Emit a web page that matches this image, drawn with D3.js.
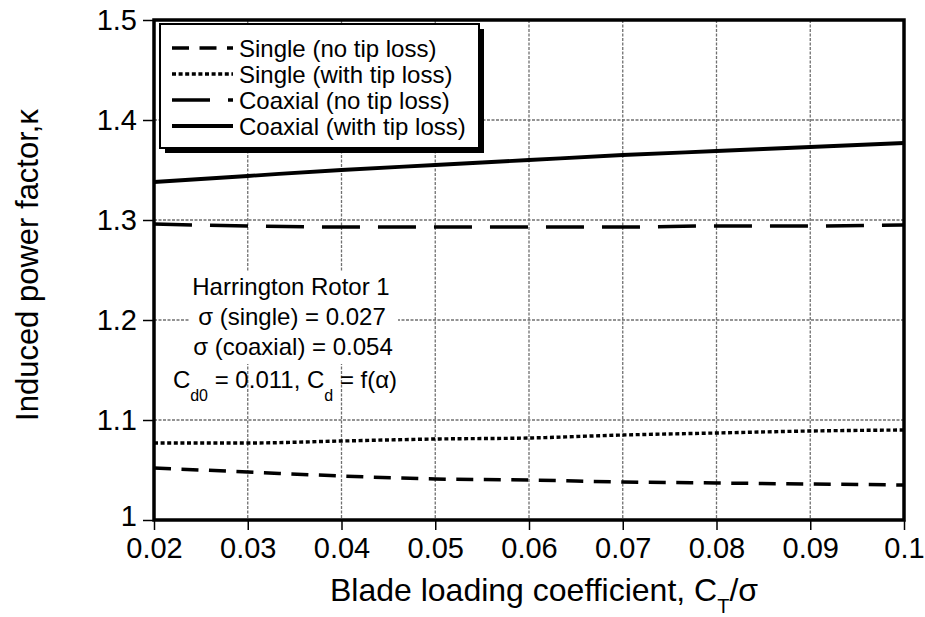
<!DOCTYPE html>
<html>
<head>
<meta charset="utf-8">
<script src="https://cdn.jsdelivr.net/npm/d3@7"></script>
<style>
  body { margin: 0; background: #fff; }
  svg { display: block; font-family: "Liberation Sans", Arial, Helvetica, sans-serif; }
</style>
</head>
<body>
<svg id="chart" width="925" height="617"></svg>
<script>
// ---- data ----
const ctSigma = [0.02, 0.03, 0.04, 0.05, 0.06, 0.07, 0.08, 0.09, 0.10];
const singleNoTip   = [1.052, 1.048, 1.044, 1.041, 1.040, 1.038, 1.037, 1.036, 1.035];
const singleTip     = [1.077, 1.077, 1.079, 1.081, 1.082, 1.085, 1.087, 1.089, 1.090];
const coaxialNoTip  = [1.296, 1.294, 1.293, 1.293, 1.293, 1.293, 1.294, 1.294, 1.295];
const coaxialTip    = [1.338, 1.344, 1.350, 1.355, 1.360, 1.365, 1.369, 1.373, 1.377];
const seriesNames = ["Single (no tip loss)", "Single (with tip loss)", "Coaxial (no tip loss)", "Coaxial (with tip loss)"];
const xTicks = [0.02, 0.03, 0.04, 0.05, 0.06, 0.07, 0.08, 0.09, 0.10];
const xTickLabels = ["0.02", "0.03", "0.04", "0.05", "0.06", "0.07", "0.08", "0.09", "0.1"];
const yTicks = [1.0, 1.1, 1.2, 1.3, 1.4, 1.5];
const yTickLabels = ["1", "1.1", "1.2", "1.3", "1.4", "1.5"];

// ---- layout ----
const svg = d3.select("#chart");
const L = 154, R = 904, T = 20, B = 520;
const x = d3.scaleLinear().domain([0.02, 0.10]).range([L, R]);
const y = d3.scaleLinear().domain([1.0, 1.5]).range([B, T]);

const series = [
  { vals: singleNoTip,  dash: "17,10.5", w: 3.5 },
  { vals: singleTip,    dash: "4,2.6",   w: 3.4 },
  { vals: coaxialNoTip, dash: "38,18",   w: 3.5 },
  { vals: coaxialTip,   dash: null,      w: 3.8 }
];

// grid
const grid = svg.append("g");
grid.selectAll("line.vx").data(xTicks.slice(1, -1)).join("line")
  .attr("x1", d => x(d)).attr("x2", d => x(d)).attr("y1", T).attr("y2", B)
  .attr("stroke", "#707070").attr("stroke-width", 1.3).attr("stroke-dasharray", "3,1.5");
grid.selectAll("line.hy").data(yTicks.slice(1, -1)).join("line")
  .attr("x1", L).attr("x2", R).attr("y1", d => y(d)).attr("y2", d => y(d))
  .attr("stroke", "#707070").attr("stroke-width", 1.3).attr("stroke-dasharray", "3,1.5");

// white background behind annotation lines
svg.append("rect").attr("x", 190).attr("y", 272).attr("width", 208).attr("height", 92).attr("fill", "#fff");

// series
const line = d3.line().x((d, i) => x(ctSigma[i])).y(d => y(d)).curve(d3.curveMonotoneX);
series.forEach(s => {
  svg.append("path").datum(s.vals)
    .attr("d", line).attr("fill", "none").attr("stroke", "#000")
    .attr("stroke-width", s.w)
    .attr("stroke-dasharray", s.dash);
});

// axes
const xAxis = d3.axisBottom(x).tickValues(xTicks).tickSize(10).tickSizeOuter(0)
  .tickFormat((d, i) => xTickLabels[i]);
const gx = svg.append("g").attr("transform", `translate(0,${B})`).call(xAxis);
gx.select(".domain").remove();
gx.selectAll(".tick line").attr("stroke", "#000").attr("stroke-width", 1.5);
gx.selectAll(".tick text").attr("font-size", 29).attr("fill", "#000").attr("dy", null).attr("y", 38)
  .attr("font-family", "'Liberation Sans', Arial, sans-serif");

const yAxis = d3.axisLeft(y).tickValues(yTicks).tickSize(11).tickSizeOuter(0)
  .tickFormat((d, i) => yTickLabels[i]);
const gy = svg.append("g").attr("transform", `translate(${L},0)`).call(yAxis);
gy.select(".domain").remove();
gy.selectAll(".tick line").attr("stroke", "#000").attr("stroke-width", 1.5);
gy.selectAll(".tick text").attr("font-size", 29).attr("fill", "#000").attr("x", -17)
  .attr("dy", (d, i) => i === 0 ? "0.18em" : "0.33em")
  .attr("font-family", "'Liberation Sans', Arial, sans-serif");

// frame
svg.append("rect").attr("x", L).attr("y", T).attr("width", R - L).attr("height", B - T)
  .attr("fill", "none").attr("stroke", "#000").attr("stroke-width", 3.5);

// legend
const lg = svg.append("g");
lg.append("rect").attr("x", 165).attr("y", 29).attr("width", 319).attr("height", 124).attr("fill", "#000");
lg.append("rect").attr("x", 160).attr("y", 24).attr("width", 319).attr("height", 124)
  .attr("fill", "#fff").attr("stroke", "#000").attr("stroke-width", 2);
series.forEach((s, i) => {
  const yy = 48 + i * 26;
  lg.append("line").attr("x1", 172).attr("x2", 233).attr("y1", yy).attr("y2", yy)
    .attr("stroke", "#000").attr("stroke-width", s.w).attr("stroke-dasharray", s.dash);
  lg.append("text").attr("x", 239).attr("y", yy + 9).attr("font-size", 24).text(seriesNames[i]);
});

// annotation
const ann = svg.append("g").attr("font-size", 24).attr("text-anchor", "middle");
ann.append("text").attr("x", 291).attr("y", 295).text("Harrington Rotor 1");
ann.append("text").attr("x", 292).attr("y", 325).text("σ (single) = 0.027");
ann.append("text").attr("x", 293).attr("y", 355).text("σ (coaxial) = 0.054");
const t4 = ann.append("text").attr("x", 285).attr("y", 388);
t4.append("tspan").text("C");
t4.append("tspan").attr("font-size", 16).attr("dy", 13).text("d0");
t4.append("tspan").attr("dy", -13).text(" = 0.011, C");
t4.append("tspan").attr("font-size", 16).attr("dy", 13).text("d");
t4.append("tspan").attr("dy", -13).text(" = f(α)");

// axis titles
const xt = svg.append("text").attr("x", 544).attr("y", 601).attr("font-size", 32).attr("text-anchor", "middle");
xt.append("tspan").text("Blade loading coefficient, C");
xt.append("tspan").attr("font-size", 20).attr("dy", 12).text("T");
xt.append("tspan").attr("dy", -12).text("/σ");

svg.append("text").attr("transform", "translate(38,265) rotate(-90)")
  .attr("font-size", 31).attr("text-anchor", "middle").text("Induced power factor,κ");
</script>
</body>
</html>
